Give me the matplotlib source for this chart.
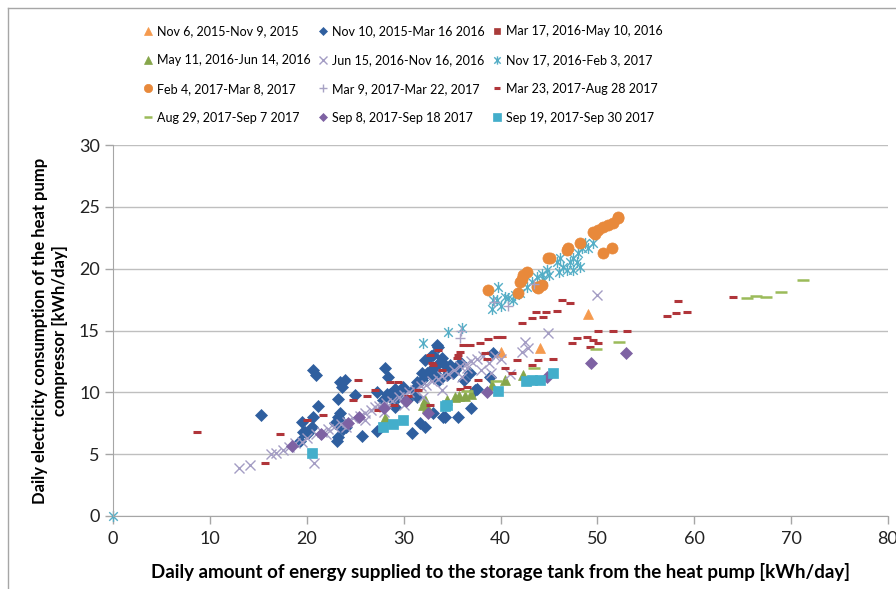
import matplotlib
matplotlib.use("Agg")
import matplotlib.pyplot as plt
from matplotlib.lines import Line2D
from matplotlib.path import Path

plt.rcParams['font.family'] = ['Lato', 'DejaVu Sans']

# daily (energy to tank, compressor electricity) pairs per period, kWh/day
nov2015 = [(49.0, 16.3), (44.1, 13.6), (40.1, 13.3)]
nov2015_mar2016 = [
    (15.3, 8.2), (20.6, 11.8), (21.0, 11.4), (23.4, 10.8), (23.9, 11.0), (23.6, 10.4),
    (23.2, 9.5), (25.0, 9.8), (21.2, 8.9), (19.5, 7.6), (20.6, 8.0), (19.6, 6.8),
    (20.1, 6.7), (19.3, 6.1), (23.2, 8.0), (23.4, 8.3), (22.9, 7.5), (23.1, 6.1),
    (24.1, 7.2), (25.7, 6.5), (28.1, 12.0), (28.4, 11.2), (29.1, 10.3), (28.3, 9.9),
    (28.8, 9.5), (29.4, 9.6), (29.9, 10.2), (29.1, 8.8), (27.2, 6.9), (30.9, 6.7),
    (31.7, 7.5), (32.2, 7.2), (31.4, 10.8), (31.9, 11.6), (32.2, 12.6), (33.0, 12.0),
    (33.5, 13.7), (33.0, 11.2), (33.7, 12.4), (34.5, 11.8), (34.8, 12.2), (35.3, 11.8),
    (33.7, 11.0), (33.0, 8.3), (34.3, 8.0), (35.6, 8.0), (37.0, 8.7), (36.8, 11.6),
    (37.6, 10.3), (39.2, 13.2), (33.0, 13.0), (34.1, 12.4), (35.1, 11.6), (34.5, 11.4),
    (33.2, 11.6), (32.4, 11.6), (31.9, 11.0), (29.9, 10.4), (31.0, 10.2), (31.4, 9.6),
    (30.3, 9.4), (38.9, 11.2), (37.4, 10.2), (20.5, 7.2), (19.8, 6.8), (23.6, 7.6),
    (23.7, 7.0), (23.2, 6.4), (27.3, 10.0), (28.6, 9.9), (27.9, 9.4), (34.1, 8.0),
    (33.4, 13.8), (35.9, 12.4), (36.2, 11.0), (32.8, 12.9), (34.0, 12.8), (35.6, 12.2),
]
mar2016_may2016 = [(29.9, 7.8), (43.3, 11.0)]
may2016_jun2016 = [
    (35.3, 9.6), (35.7, 9.7), (36.3, 9.7), (39.1, 10.6), (42.3, 11.4), (34.5, 9.4),
    (32.4, 8.8), (32.0, 9.0), (32.2, 9.4), (37.0, 9.9), (28.1, 7.9), (40.5, 11.0),
]
jun2016_nov2016 = [
    (13.0, 3.9), (14.1, 4.1), (16.3, 5.0), (16.8, 5.1), (17.5, 5.3), (18.2, 5.6),
    (18.8, 5.9), (19.5, 6.0), (20.0, 6.3), (20.7, 4.3), (21.0, 6.6), (21.6, 6.8),
    (22.2, 7.0), (22.8, 7.2), (23.5, 7.4), (24.2, 7.6), (24.8, 7.9), (25.5, 8.1),
    (26.0, 8.3), (26.6, 8.6), (27.0, 8.8), (27.5, 8.9), (28.2, 9.1), (28.8, 9.3),
    (29.5, 9.6), (30.0, 9.8), (30.6, 10.0), (31.2, 10.2), (31.8, 10.5), (32.3, 10.6),
    (32.9, 10.9), (33.5, 11.1), (34.0, 11.3), (34.6, 11.5), (35.2, 11.8), (35.8, 12.1),
    (36.4, 12.3), (37.0, 12.5), (37.6, 12.7), (38.2, 12.9), (38.8, 12.4), (39.4, 12.9),
    (40.0, 12.7), (36.0, 11.2), (34.0, 10.2), (32.0, 9.6), (30.0, 9.0), (28.0, 8.4),
    (26.0, 7.8), (24.0, 7.2), (22.0, 6.6), (42.2, 13.3), (42.5, 14.1), (42.8, 13.6),
    (44.9, 14.8), (50.0, 17.9), (41.0, 11.5), (38.0, 11.8), (39.0, 11.6), (36.5, 12.0),
]
nov2016_feb2017 = [
    (0.0, 0.0), (32.0, 14.0), (34.6, 14.9), (36.0, 15.2), (39.1, 16.7), (39.2, 17.5),
    (39.7, 18.5), (40.5, 17.7), (40.8, 17.6), (41.3, 17.5), (41.5, 17.9), (42.7, 18.5),
    (43.2, 18.9), (43.8, 19.3), (44.3, 19.6), (44.8, 19.9), (44.4, 19.2), (45.8, 20.5),
    (46.1, 20.9), (46.4, 20.1), (46.9, 19.9), (47.2, 20.5), (47.5, 20.9), (47.9, 20.5),
    (48.0, 21.3), (48.4, 21.7), (48.7, 22.1), (49.0, 21.7), (49.5, 22.1), (47.5, 19.9),
    (48.2, 20.1), (39.6, 17.5), (40.0, 17.0), (42.0, 18.0), (45.0, 19.5), (46.0, 19.7),
]
feb2017_mar2017 = [
    (38.7, 18.3), (41.8, 18.0), (42.0, 18.9), (42.3, 19.5), (42.7, 19.7), (42.2, 19.2),
    (43.8, 18.5), (44.3, 18.7), (43.9, 18.4), (44.9, 20.9), (45.1, 20.9), (46.9, 21.5),
    (47.0, 21.7), (48.2, 22.1), (49.5, 23.0), (50.1, 23.1), (50.6, 23.4), (51.1, 23.5),
    (51.6, 23.7), (52.1, 24.1), (52.1, 24.2), (50.6, 21.3), (51.5, 21.7), (49.8, 22.8),
]
mar2017_a = [(35.8, 14.4), (35.9, 15.0), (39.3, 17.3), (40.8, 17.0), (43.5, 18.8)]
mar2017_aug2017 = [
    (8.7, 6.8), (17.2, 6.6), (15.7, 4.3), (25.3, 11.0), (21.7, 8.2), (20.0, 7.8),
    (24.8, 9.4), (26.2, 9.7), (29.4, 10.8), (28.6, 10.8), (27.4, 8.6), (32.7, 13.0),
    (32.9, 12.4), (33.5, 13.4), (33.0, 12.2), (35.5, 12.8), (35.8, 13.3), (36.1, 13.8),
    (36.8, 13.8), (37.9, 14.0), (38.7, 14.3), (39.6, 14.5), (40.2, 14.5), (35.6, 13.0),
    (38.4, 13.2), (38.6, 12.7), (40.5, 12.0), (37.7, 11.0), (35.8, 10.3), (36.5, 10.4),
    (41.2, 11.6), (43.2, 12.2), (41.7, 12.6), (43.9, 12.6), (45.4, 12.7), (42.2, 15.6),
    (43.3, 16.0), (44.4, 16.1), (43.7, 16.5), (44.7, 16.5), (45.8, 16.6), (46.3, 17.5),
    (47.2, 17.2), (50.1, 15.0), (51.6, 15.0), (53.1, 15.0), (47.4, 14.0), (47.9, 14.4),
    (48.9, 14.5), (49.5, 14.2), (50.1, 14.0), (49.2, 13.7), (57.2, 16.2), (58.1, 16.4),
    (59.3, 16.5), (58.3, 17.4), (64.0, 17.7), (32.7, 9.0), (31.5, 10.2), (30.5, 9.7),
    (34.0, 11.8), (27.0, 10.2), (29.0, 9.0),
]
aug2017_sep2017 = [
    (65.4, 17.6), (66.4, 17.8), (67.4, 17.7), (69.0, 18.1), (71.2, 19.1), (52.2, 14.1),
    (49.9, 13.5), (43.5, 12.0), (39.5, 10.9), (36.5, 10.1),
]
sep2017_a = [
    (53.0, 13.2), (49.3, 12.4), (44.8, 11.2), (38.6, 10.0), (32.5, 8.3), (18.5, 5.7),
    (21.5, 6.6), (24.3, 7.5), (25.4, 8.0), (28.0, 8.7), (30.2, 9.3),
]
sep2017_b = [
    (20.5, 5.1), (27.9, 7.2), (28.9, 7.4), (29.9, 7.8), (34.3, 8.9), (39.7, 10.1),
    (43.3, 11.0), (44.1, 11.0), (45.4, 11.6), (34.5, 9.0), (42.6, 10.9),
]

labels = [
    "Nov 6, 2015-Nov 9, 2015", "Nov 10, 2015-Mar 16 2016", "Mar 17, 2016-May 10, 2016",
    "May 11, 2016-Jun 14, 2016", "Jun 15, 2016-Nov 16, 2016", "Nov 17, 2016-Feb 3, 2017",
    "Feb 4, 2017-Mar 8, 2017", "Mar 9, 2017-Mar 22, 2017", "Mar 23, 2017-Aug 28 2017",
    "Aug 29, 2017-Sep 7 2017", "Sep 8, 2017-Sep 18 2017", "Sep 19, 2017-Sep 30 2017",
]
series = [nov2015, nov2015_mar2016, mar2016_may2016, may2016_jun2016, jun2016_nov2016,
          nov2016_feb2017, feb2017_mar2017, mar2017_a, mar2017_aug2017, aug2017_sep2017,
          sep2017_a, sep2017_b]

asterisk = Path([(-1, -1), (1, 1), (-1, 1), (1, -1), (0, -1.3), (0, 1.3)],
                [Path.MOVETO, Path.LINETO, Path.MOVETO, Path.LINETO, Path.MOVETO, Path.LINETO])

# marker, colour, size, edge width
styles = [
    ('^', '#F59A4E', 7.5, 0.5),
    ('D', '#2F5F9F', 6.0, 0.5),
    ('s', '#A93B39', 6.0, 0.5),
    ('^', '#86A64A', 7.5, 0.5),
    ('x', '#A49DC4', 7.0, 1.0),
    (asterisk, '#55AEC6', 8.0, 1.0),
    ('o', '#E8893B', 8.0, 0.5),
    ('+', '#A7A2C4', 7.0, 1.0),
    ('_', '#B0353A', 5.5, 2.2),
    ('_', '#9BBB59', 8.0, 1.8),
    ('D', '#7E62A3', 6.0, 0.5),
    ('s', '#43AECB', 7.5, 0.5),
]

fig = plt.figure(figsize=(8.96, 5.89), dpi=100)
ax = fig.add_axes([113 / 896, 1 - 516 / 589, 775 / 896, 371 / 589])

handles = []
for pts, label, (m, c, ms, mew) in zip(series, labels, styles):
    xs = [p[0] for p in pts]
    ys = [p[1] for p in pts]
    filled = m not in ('x', '+', '_') and not isinstance(m, Path)
    ax.plot(xs, ys, linestyle='none', marker=m, markersize=ms, markeredgewidth=mew,
            color=c, markerfacecolor=c if filled else 'none', markeredgecolor=c,
            clip_on=False)
    handles.append(Line2D([], [], linestyle='none', marker=m, markersize=ms * 0.75,
                          markeredgewidth=mew, color=c, label=label))

ax.set_xlim(0, 80)
ax.set_ylim(0, 30)
ax.set_xticks(range(0, 81, 10))
ax.set_yticks(range(0, 31, 5))
ax.yaxis.grid(True, color='#BFBFBF', linewidth=1.0)
ax.set_axisbelow(True)
for side in ('top', 'right'):
    ax.spines[side].set_visible(False)
for side in ('left', 'bottom'):
    ax.spines[side].set_color('#A6A6A6')
ax.tick_params(axis='both', colors='#A6A6A6', labelcolor='#222222', labelsize=13,
               length=6, width=1)
ax.tick_params(axis='x', pad=5)

ax.set_xlabel("Daily amount of energy supplied to the storage tank from the heat pump [kWh/day]",
              fontsize=13.5, fontweight='bold', labelpad=11)
ax.set_ylabel("Daily electricity consumption of the heat pump\ncompressor [kWh/day]",
              fontsize=12, fontweight='bold', labelpad=8, linespacing=1.3)

# legend entries run across the rows, so reorder for column-first filling
ncol = 3
nrow = len(handles) // ncol
order = [r * ncol + c for c in range(ncol) for r in range(nrow)]
fig.legend(handles=[handles[i] for i in order], ncol=ncol, loc='upper left',
           bbox_to_anchor=(143 / 896, 1 - 25 / 589), frameon=False, fontsize=9,
           handlelength=0.8, handletextpad=0.3, columnspacing=0.6, labelspacing=1.35,
           borderpad=0, borderaxespad=0)

# thin frame around the figure
frame = '#A6A6A6'
fig.add_artist(Line2D([8 / 896, 1], [1 - 8 / 589, 1 - 8 / 589], transform=fig.transFigure,
                      color=frame, linewidth=1))
fig.add_artist(Line2D([8 / 896, 8 / 896], [0, 1 - 8 / 589], transform=fig.transFigure,
                      color=frame, linewidth=1))

fig.savefig("out.png", dpi=100)
